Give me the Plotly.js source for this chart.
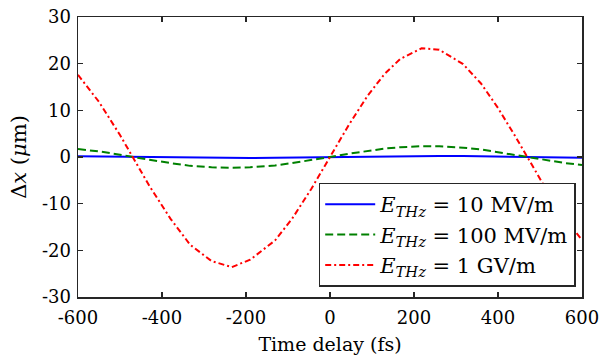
<!DOCTYPE html>
<html>
<head>
<meta charset="utf-8">
<script src="https://cdn.plot.ly/plotly-3.0.1.min.js"></script>
<style>html,body{margin:0;padding:0;background:#fff;}#chart{width:600px;height:355px;}</style>
</head>
<body>
<div id="chart"></div>
<script>
// Time delay (fs)
const timeDelay = [-600, -550, -500, -470, -430, -380, -333, -282, -234, -190, -131, -90, -45, 0, 45, 90, 130, 167, 218, 260, 317, 360, 400, 440, 470, 510, 560, 600];
// Δx (µm) for each field strength
const dx10MV  = [0.18, 0.12, 0.05, 0.0, -0.06, -0.13, -0.19, -0.22, -0.24, -0.22, -0.18, -0.13, -0.07, 0.0, 0.07, 0.13, 0.18, 0.21, 0.23, 0.23, 0.20, 0.16, 0.10, 0.05, 0.0, -0.06, -0.13, -0.18];
const dx100MV = [1.7, 1.2, 0.5, 0.0, -0.6, -1.3, -1.9, -2.2, -2.3, -2.2, -1.8, -1.3, -0.7, 0.0, 0.7, 1.3, 1.8, 2.1, 2.3, 2.3, 2.0, 1.6, 1.0, 0.5, 0.0, -0.6, -1.3, -1.7];
const dx1GV   = [17.6, 11.8, 4.7, 0.0, -6.2, -13.2, -18.8, -22.3, -23.6, -22.0, -17.9, -13.2, -6.9, 0.0, 6.9, 13.2, 17.8, 21.0, 23.3, 23.0, 19.9, 15.7, 10.5, 4.6, 0.0, -6.2, -13.2, -17.8];

const seriesNames = [
  '<i>E</i><sub><i>THz</i></sub> = 10 MV/m',
  '<i>E</i><sub><i>THz</i></sub> = 100 MV/m',
  '<i>E</i><sub><i>THz</i></sub> = 1 GV/m'
];
const xTicks = [-600, -400, -200, 0, 200, 400, 600];
const xTickText = ['-600', '-400', '-200', '0', '200', '400', '600'];
const yTicks = [-30, -20, -10, 0, 10, 20, 30];
const yTickText = ['-30', '-20', '-10', '0', '10', '20', '30'];

const FONT = '"DejaVu Serif", serif';
const AX = '#262626';

const traces = [
  {x: timeDelay, y: dx10MV, name: seriesNames[0], mode: 'lines', line: {color: '#0000ff', width: 2}},
  {x: timeDelay, y: dx100MV, name: seriesNames[1], mode: 'lines', line: {color: '#008000', width: 2, dash: '8px,4px'}},
  {x: timeDelay, y: dx1GV, name: seriesNames[2], mode: 'lines', line: {color: '#ff0000', width: 2, dash: '6px,3px,2px,3px'}}
];

const axisCommon = {
  showgrid: false, zeroline: false, showline: true, linecolor: AX, linewidth: 1.5,
  mirror: 'allticks', ticks: 'inside', ticklen: 5, tickwidth: 1.5, tickcolor: AX,
  tickfont: {family: FONT, size: 18, color: '#000'}
};

const layout = {
  width: 600, height: 355,
  margin: {l: 78, r: 18, t: 17, b: 58},
  paper_bgcolor: '#fff', plot_bgcolor: '#fff',
  font: {family: FONT, color: '#000'},
  showlegend: true,
  xaxis: Object.assign({}, axisCommon, {
    range: [-600, 600], tickmode: 'array', tickvals: xTicks, ticktext: xTickText,
    ticklabelstandoff: 4,
    title: {text: 'Time delay (fs)', font: {family: FONT, size: 19, color: '#000'}, standoff: 13}
  }),
  yaxis: Object.assign({}, axisCommon, {
    range: [-30, 30], tickmode: 'array', tickvals: yTicks, ticktext: yTickText,
    ticklabelstandoff: 2,
    title: {text: 'Δ<i>x</i> (<i>μ</i>m)', font: {family: FONT, size: 21, color: '#000'}, standoff: 9}
  }),
  legend: {
    x: 0.9875, y: 0.037, xanchor: 'right', yanchor: 'bottom',
    bgcolor: '#fff', bordercolor: AX, borderwidth: 1.5,
    font: {family: FONT, size: 21, color: '#000'},
    tracegroupgap: 0, itemwidth: 50
  }
};

Plotly.newPlot('chart', traces, layout, {displayModeBar: false, staticPlot: true});
</script>
</body>
</html>
